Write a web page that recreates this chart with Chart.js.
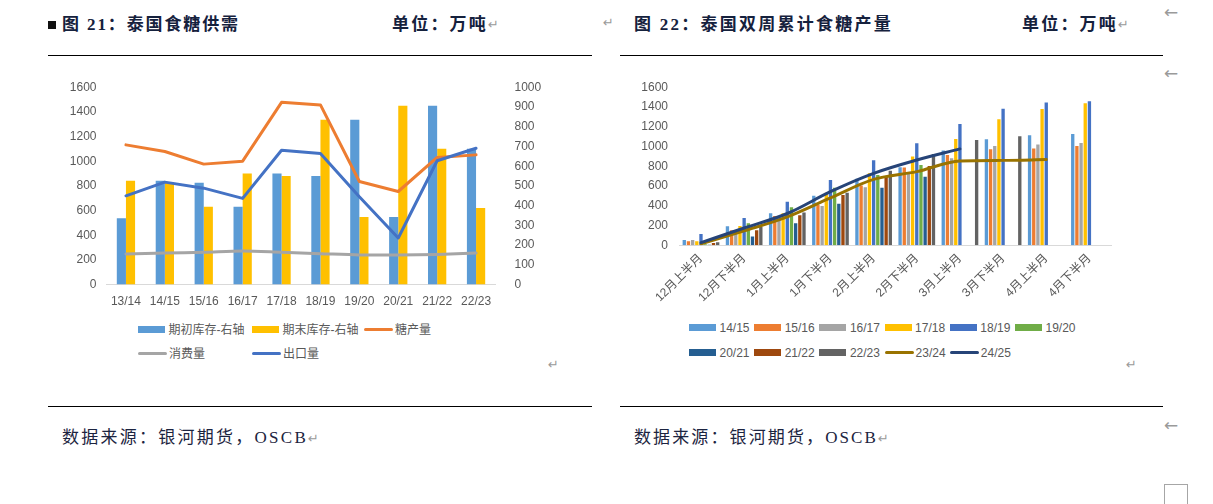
<!DOCTYPE html>
<html><head><meta charset="utf-8">
<script src="https://cdn.jsdelivr.net/npm/chart.js@4.4.0/dist/chart.umd.min.js"></script>
<style>
html,body{margin:0;padding:0;background:#fff;}
body{width:1213px;height:504px;position:relative;overflow:hidden;font-family:'Liberation Serif','Noto Sans CJK SC',serif;}
.abs{position:absolute;white-space:nowrap;}
.hdr{font-weight:700;font-size:17px;color:#15213d;line-height:20px;}
.foot{font-size:17px;color:#1c2440;line-height:20px;}
.mark{position:absolute;color:#9a9a9a;font-family:'DejaVu Sans',sans-serif;font-size:13px;line-height:16px;}
.mark2{position:absolute;color:#9a9a9a;font-family:'DejaVu Sans',sans-serif;font-size:17px;line-height:18px;}
.rule{position:absolute;height:1px;background:#000;}
.lg{position:absolute;font-family:'Liberation Sans','Noto Sans CJK SC',sans-serif;font-size:12px;color:#595959;white-space:nowrap;line-height:14px;}
.wrap{position:absolute;}
</style></head><body>

<div class="abs" style="left:48px;top:21px;width:8px;height:8px;background:#111;"></div>
<div class="abs hdr" id="t1" style="left:62px;top:15px;">图 21：泰国食糖供需</div>
<div class="abs hdr" id="u1" style="left:392px;top:15px;">单位：万吨</div>
<div class="mark" style="left:488px;top:17px;">↵</div>
<div class="mark" style="left:603px;top:15px;">↵</div>
<div class="abs hdr" id="t2" style="left:634px;top:15px;">图 22：泰国双周累计食糖产量</div>
<div class="abs hdr" id="u2" style="left:1022px;top:15px;">单位：万吨</div>
<div class="mark" style="left:1118px;top:17px;">↵</div>
<div class="mark2" style="left:1164px;top:3px;">←</div>
<div class="mark2" style="left:1164px;top:64px;">←</div>
<div class="mark" style="left:548px;top:357px;">↵</div>
<div class="mark" style="left:1126px;top:357px;">↵</div>
<div class="mark2" style="left:1164px;top:416px;">←</div>

<div class="rule" style="left:48px;top:55px;width:544px;"></div>
<div class="rule" style="left:620px;top:55px;width:543px;"></div>
<div class="rule" style="left:48px;top:406px;width:544px;"></div>
<div class="rule" style="left:620px;top:406px;width:543px;"></div>

<div class="abs foot" id="f1" style="left:62px;top:428px;">数据来源：银河期货，OSCB</div>
<div class="mark" style="left:308px;top:431px;">↵</div>
<div class="abs foot" id="f2" style="left:634px;top:428px;">数据来源：银河期货，OSCB</div>
<div class="mark" style="left:878px;top:431px;">↵</div>
<div class="abs" style="left:1164px;top:484px;width:22px;height:26px;border:1px solid #a6a6a6;"></div>

<div class="wrap" style="left:48px;top:70px;width:544px;height:245px;"><canvas id="c1"></canvas></div>
<div class="wrap" style="left:620px;top:70px;width:543px;height:245px;"><canvas id="c2"></canvas></div>
<div id="legends"></div>

<script>
// ---------- Chart 21 data ----------
const seasons = ['13/14','14/15','15/16','16/17','17/18','18/19','19/20','20/21','21/22','22/23'];
const openingStock = [336,526,516,395,563,550,835,342,906,688];
const closingStock = [526,516,395,563,550,835,342,906,688,388];
const production = [1133,1079,977,1001,1478,1457,836,755,1031,1052];
const consumption = [248,256,262,272,262,251,240,240,245,256];
const exportVol = [720,831,782,699,1090,1063,712,378,1004,1106];
const leftTicks = [0,1600,200];
const rightTicks = [0,1000,100];

// ---------- Chart 22 data ----------
const periods = ['12月上半月','12月下半月','1月上半月','1月下半月','2月上半月','2月下半月','3月上半月','3月下半月','4月上半月','4月下半月'];
const s1415 = [54,192,324,503,675,790,959,1073,1114,1128];
const s1516 = [40,152,297,408,605,787,915,972,979,1006];
const s1617 = [54,138,284,398,587,729,881,1006,1020,1036];
const s1718 = [40,196,324,533,729,898,1077,1276,1381,1438];
const s1819 = [115,277,442,662,861,1033,1229,1384,1445,1458];
const s1920 = [10,223,385,584,712,814,null,null,null,null];
const s2021 = [5,88,223,422,584,695,null,null,null,null];
const s2122 = [24,152,304,510,695,803,null,null,null,null];
const s2223 = [30,189,331,533,756,925,1067,1104,null,null];
const s2324 = [14,147,288,480,668,746,854,860,868,null];
const s2425 = [27,175,322,543,729,864,976,null,null,null];
const seriesNames2 = ['14/15','15/16','16/17','17/18','18/19','19/20','20/21','21/22','22/23','23/24','24/25'];
const yTicks2 = [0,1600,200];

Chart.defaults.font.family = "'Liberation Sans','Noto Sans CJK SC',sans-serif";
Chart.defaults.font.size = 12;
Chart.defaults.color = '#595959';

const noGrid = {display:false, drawTicks:false};
const plain = v => String(v);
function fixV(w){ return function(s){ s.width = w; s.paddingTop = 0; s.paddingBottom = 0; }; }
function fixH(h){ return function(s){ s.height = h; s.paddingLeft = 0; s.paddingRight = 0; }; }

const chart1 = new Chart(document.getElementById('c1'), {
  type:'bar',
  data:{
    labels: seasons,
    datasets:[
      {label:'期初库存-右轴', data:openingStock, backgroundColor:'#5B9BD5', yAxisID:'yR', order:10, barPercentage:1, categoryPercentage:0.47},
      {label:'期末库存-右轴', data:closingStock, backgroundColor:'#FFC000', yAxisID:'yR', order:10, barPercentage:1, categoryPercentage:0.47},
      {type:'line', label:'糖产量', data:production, borderColor:'#ED7D31', backgroundColor:'#ED7D31', borderWidth:3, pointRadius:0, tension:0, yAxisID:'yL', order:3, borderJoinStyle:'round', borderCapStyle:'round'},
      {type:'line', label:'消费量', data:consumption, borderColor:'#A5A5A5', backgroundColor:'#A5A5A5', borderWidth:3, pointRadius:0, tension:0.3, yAxisID:'yL', order:2, borderJoinStyle:'round', borderCapStyle:'round'},
      {type:'line', label:'出口量', data:exportVol, borderColor:'#4472C4', backgroundColor:'#4472C4', borderWidth:3, pointRadius:0, tension:0, yAxisID:'yL', order:1, borderJoinStyle:'round', borderCapStyle:'round'}
    ]
  },
  options:{
    responsive:true, maintainAspectRatio:false, animation:false,
    layout:{padding:{top:17.3,left:0,right:0,bottom:0}},
    plugins:{legend:{display:false}, tooltip:{enabled:false}},
    scales:{
      x:{grid:noGrid, border:{display:true,color:'#D9D9D9',width:1}, ticks:{padding:10, maxRotation:0, minRotation:0, autoSkip:false},
         afterFit:fixH(30.4)},
      yL:{position:'left', min:leftTicks[0], max:leftTicks[1], grid:noGrid, border:{display:false},
         ticks:{stepSize:leftTicks[2], padding:10, callback:plain}, afterFit:fixV(58.5)},
      yR:{position:'right', min:rightTicks[0], max:rightTicks[1], grid:noGrid, border:{display:false},
         ticks:{stepSize:rightTicks[2], padding:19, callback:plain}, afterFit:fixV(96.5)}
    }
  }
});

const barColors2 = ['#5B9BD5','#ED7D31','#A5A5A5','#FFC000','#4472C4','#70AD47','#255E91','#9E480E','#636363'];
const barData2 = [s1415,s1516,s1617,s1718,s1819,s1920,s2021,s2122,s2223];
const ds2 = barData2.map((d,i)=>({label:seriesNames2[i], data:d, backgroundColor:barColors2[i], order:10, barPercentage:0.8, categoryPercentage:0.87}));
ds2.push({type:'line', label:seriesNames2[9], data:s2324, borderColor:'#997300', backgroundColor:'#997300', borderWidth:3, pointRadius:0, cubicInterpolationMode:'monotone', order:2, borderCapStyle:'round', borderJoinStyle:'round'});
ds2.push({type:'line', label:seriesNames2[10], data:s2425, borderColor:'#264478', backgroundColor:'#264478', borderWidth:3, pointRadius:0, cubicInterpolationMode:'monotone', order:1, borderCapStyle:'round', borderJoinStyle:'round'});

const chart2 = new Chart(document.getElementById('c2'), {
  type:'bar',
  data:{labels:periods, datasets:ds2},
  options:{
    responsive:true, maintainAspectRatio:false, animation:false,
    layout:{padding:{top:17.3,left:0,right:52,bottom:0}},
    plugins:{legend:{display:false}, tooltip:{enabled:false}},
    scales:{
      x:{grid:noGrid, border:{display:true,color:'#D9D9D9',width:1}, ticks:{padding:6, maxRotation:45, minRotation:45, autoSkip:false},
         afterFit:fixH(69.7)},
      y:{min:yTicks2[0], max:yTicks2[1], grid:noGrid, border:{display:false},
         ticks:{stepSize:yTicks2[2], padding:11.4, callback:plain}, afterFit:fixV(59.4)}
    }
  }
});

// ---------- HTML legends from chart datasets ----------
const legendHost = document.getElementById('legends');
function addLegend(chart, cols, rows, perRow){
  chart.data.datasets.forEach((ds,i)=>{
    const x = cols[i % perRow], y = rows[Math.floor(i / perRow)];
    const isLine = ds.type === 'line';
    const sw = document.createElement('div');
    sw.style.position='absolute';
    sw.style.left = x+'px';
    sw.style.background = isLine ? ds.borderColor : ds.backgroundColor;
    sw.style.width = (isLine?29:27)+'px';
    sw.style.height = (isLine?3:7)+'px';
    sw.style.top = (y - (isLine?1.5:3.5))+'px';
    if(isLine) sw.style.borderRadius='2px';
    legendHost.appendChild(sw);
    const tx = document.createElement('div');
    tx.className='lg';
    tx.textContent = ds.label;
    tx.style.left = (x + (isLine?31:30.5))+'px';
    tx.style.top = (y-7)+'px';
    legendHost.appendChild(tx);
  });
}
addLegend(chart1, [138,252,364], [329.5,353.5], 3);
addLegend(chart2, [689,754.2,819.4,884.6,949.8,1015], [327.5,352.5], 6);

// fit header/footer text to measured widths
function fit(id, w){
  const el = document.getElementById(id);
  const n = el.textContent.length;
  const cur = el.getBoundingClientRect().width;
  el.style.letterSpacing = ((w-cur)/n)+'px';
}
fit('t1',178); fit('u1',96); fit('t2',259); fit('u2',96); fit('f1',246); fit('f2',244);
</script>
</body></html>
